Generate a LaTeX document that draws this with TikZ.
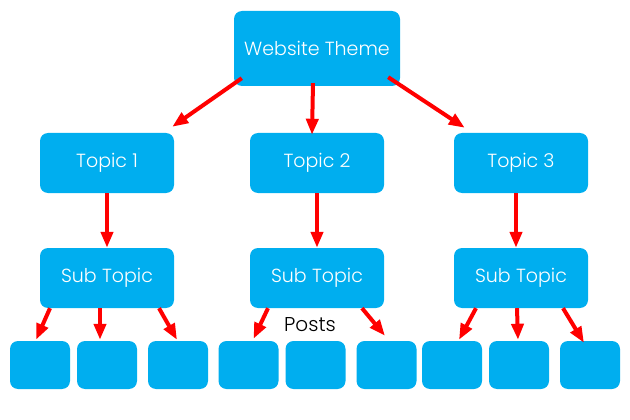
\documentclass[tikz,border=0pt]{standalone}
\usepackage{fontspec}
\setmainfont{Poppins}[UprightFont=* Light]
\usetikzlibrary{arrows.meta}
\definecolor{boxblue}{HTML}{00AEEF}

\begin{document}
\begin{tikzpicture}[
  x=1pt, y=-1pt,
  theme box/.style={
    fill=boxblue,
    rounded corners=8pt,
    text=white,
    font=\fontsize{19}{22}\selectfont,
    minimum width=166pt,
    minimum height=75pt,
  },
  topic box/.style={
    theme box,
    minimum width=134pt,
    minimum height=60pt,
  },
  post box/.style={
    fill=boxblue,
    rounded corners=8pt,
    minimum width=60pt,
    minimum height=48pt,
  },
  posts label/.style={
    black,
    font=\fontsize{20}{23}\selectfont,
  },
  link/.style={
    draw,
    red,
    line width=4pt,
    -{Triangle[length=16pt,width=12pt]},
  },
]
\useasboundingbox (0,0) rectangle (630,420);

\node[theme box] (theme) at (317,48.5) {Website Theme};

\node[topic box] (t1) at (107,163) {Topic 1};
\node[topic box] (t2) at (317,163) {Topic 2};
\node[topic box] (t3) at (521,163) {Topic 3};

\node[topic box] (s1) at (107,278) {Sub Topic};
\node[topic box] (s2) at (317,278) {Sub Topic};
\node[topic box] (s3) at (521,278) {Sub Topic};

\foreach \x [count=\i] in {40,107,178,248.5,315.5,386.5,452,519,590}
  \node[post box] (p\i) at (\x,365) {};

\node[posts label] (posts) at (310,325) {Posts};

% theme to topics
\draw[link] ([xshift=8pt,yshift=8pt]theme.south west) -- ([xshift=-2pt,yshift=6pt]t1.north east);
\draw[link] ([xshift=-4pt,yshift=3pt]theme.south) -- ([xshift=-5pt,yshift=-2pt]t2.north);
\draw[link] ([xshift=-12pt,yshift=9pt]theme.south east) -- ([xshift=11pt,yshift=5pt]t3.north west);

% topics to sub topics
\draw[link] (t1.south) -- (s1.north);
\draw[link] (t2.south) -- (s2.north);
\draw[link] ([xshift=-5pt]t3.south) -- ([xshift=-5pt]s3.north);

% sub topics to posts
\draw[link] ([xshift=-57pt]s1.south) -- ([xshift=-4pt,yshift=1pt]p1.north);
\draw[link] ([xshift=-7pt]s1.south) -- ([xshift=-7pt,yshift=1pt]p2.north);
\draw[link] ([xshift=52pt]s1.south) -- ([xshift=-1pt,yshift=1pt]p3.north);
\draw[link] ([xshift=-49pt]s2.south) -- ([xshift=5pt,yshift=2pt]p4.north);
\draw[link] ([xshift=45pt]s2.south) -- ([xshift=-1.5pt,yshift=5pt]p6.north);
\draw[link] ([xshift=-45pt]s3.south) -- ([xshift=7pt,yshift=1pt]p7.north);
\draw[link] ([xshift=-4pt]s3.south) -- ([xshift=-1pt,yshift=1pt]p8.north);
\draw[link] ([xshift=42pt]s3.south) -- ([xshift=-6pt,yshift=-2pt]p9.north);
\end{tikzpicture}
\end{document}
